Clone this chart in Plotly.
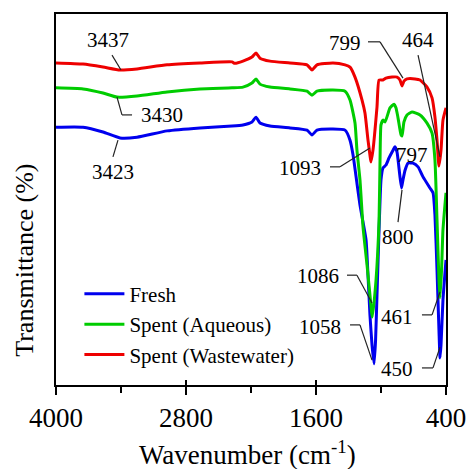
import plotly.graph_objects as go

# ---------------- data ----------------
fresh_wn = [4000, 3750, 3566, 3409, 3252, 2975, 2671, 2375, 2274, 2191, 2154, 2117, 2025, 1840, 1683, 1637, 1591,
            1443, 1332, 1286, 1258, 1222, 1194, 1166, 1138, 1120, 1102, 1083, 1064, 1050, 1037, 1018, 1000, 982,
            954, 926, 889, 871, 852, 834, 811, 797, 778, 751, 705, 658, 612, 548, 520, 502, 483, 465, 455, 446,
            428, 400]
fresh_t = [69.5, 69.5, 68.2, 66.6, 66.8, 68.5, 69.3, 69.8, 70.1, 70.9, 72.2, 70.6, 69.8, 69.3, 68.7, 67.4, 68.7,
           69.0, 68.7, 66.0, 62.0, 54.4, 48.5, 43.9, 39.1, 29.6, 18.9, 10.8, 5.7, 12.1, 24.3, 41.8, 55.3, 58.5,
           59.3, 61.2, 63.3, 64.2, 62.8, 58.5, 53.1, 55.3, 57.9, 59.8, 59.8, 58.8, 56.1, 53.1, 51.8, 45.8, 31.0,
           14.8, 7.3, 10.8, 22.9, 33.7]

aq_wn = [4000, 3750, 3566, 3437, 3252, 2975, 2671, 2375, 2274, 2191, 2154, 2117, 2025, 1840, 1683, 1637, 1591,
         1443, 1332, 1286, 1240, 1222, 1194, 1166, 1129, 1102, 1080, 1046, 1018, 1009, 1000, 982, 963, 917, 880,
         862, 843, 815, 806, 788, 760, 714, 640, 575, 529, 502, 483, 465, 455, 441, 428, 400]
aq_t = [80.1, 79.8, 78.7, 77.6, 77.9, 79.0, 79.8, 80.1, 80.3, 81.4, 82.5, 81.1, 80.3, 79.8, 79.2, 78.1, 79.2,
        79.5, 79.2, 76.8, 70.6, 63.3, 55.3, 42.6, 32.3, 24.3, 18.3, 28.3, 44.5, 60.6, 70.1, 71.4, 70.9, 74.7, 75.7,
        74.7, 72.0, 67.4, 67.1, 70.9, 72.8, 73.6, 72.8, 70.6, 67.9, 60.6, 44.5, 28.3, 23.5, 31.0, 41.8, 51.8]

ww_wn = [4000, 3750, 3566, 3409, 3252, 2975, 2671, 2375, 2350, 2274, 2191, 2154, 2117, 2025, 1840, 1683, 1637,
         1591, 1443, 1332, 1286, 1240, 1175, 1148, 1120, 1102, 1093, 1074, 1037, 1018, 982, 954, 898, 852, 825,
         806, 788, 760, 686, 640, 575, 529, 502, 483, 465, 446, 428, 400]
ww_t = [86.8, 86.5, 85.7, 84.9, 85.2, 86.3, 86.8, 87.1, 86.7, 87.3, 88.4, 89.5, 88.1, 87.3, 86.8, 86.3, 84.9,
        86.3, 86.8, 86.3, 85.7, 83.0, 76.8, 73.3, 66.0, 62.0, 60.1, 63.3, 74.9, 82.2, 82.2, 82.7, 83.0, 83.0, 82.2,
        80.6, 81.9, 82.5, 82.5, 82.2, 80.3, 77.4, 72.2, 66.0, 59.0, 63.3, 71.4, 74.7]

series_names = ["Fresh", "Spent (Aqueous)", "Spent (Wastewater)"]
series_colors = ["#0000ee", "#00cc00", "#ee0000"]

x_ticks = [4000, 2800, 1600, 400]
x_minor = [3400, 2200, 1000]

# peak labels: text, text position (wn, T), leader polyline (wn, T) points
peak_labels = ["3437", "3430", "3423", "1093", "799", "464", "797", "800", "1086", "1058", "461", "450"]
label_pos = [(3520, 93.0), (3022, 72.8), (3474, 57.4), (1748, 58.5), (1332, 92.2), (658, 93.0),
             (714, 62.0), (843, 39.9), (1582, 29.4), (1563, 15.6), (852, 18.3), (852, 4.3)]
leaders = [
    [(3483, 88.9), (3400, 84.9)],
    [(3298, 72.8), (3391, 72.8), (3437, 77.6)],
    [(3474, 61.5), (3428, 66.0)],
    [(1471, 58.8), (1378, 58.8), (1102, 63.9)],
    [(1120, 92.5), (1009, 92.5), (797, 82.7)],
    [(658, 88.9), (455, 61.5)],
    [],
    [(843, 43.9), (806, 52.6)],
    [(1314, 29.6), (1222, 29.6), (1083, 22.1)],
    [(1286, 16.2), (1194, 16.2), (1083, 6.7)],
    [(622, 18.9), (529, 18.9), (455, 25.1)],
    [(622, 4.6), (520, 4.6), (455, 10.2)],
]

FONT = "Times New Roman, Liberation Serif, serif"

fig = go.Figure()
for name, color, xs, ys in zip(series_names, series_colors,
                               [fresh_wn, aq_wn, ww_wn], [fresh_t, aq_t, ww_t]):
    fig.add_trace(go.Scatter(x=xs, y=ys, mode="lines", name=name,
                             line=dict(color=color, width=3, shape="spline", smoothing=0.5)))

# dummy trace for overlay axis carrying inside ticks
fig.add_trace(go.Scatter(x=[4000, 400], y=[None, None], xaxis="x2", showlegend=False,
                         hoverinfo="skip", mode="lines"))

shapes = []
for pts in leaders:
    for (x0, y0), (x1, y1) in zip(pts[:-1], pts[1:]):
        shapes.append(dict(type="line", xref="x", yref="y", x0=x0, y0=y0, x1=x1, y1=y1,
                           line=dict(color="#222222", width=1.2)))

annotations = []
for txt, (x, y) in zip(peak_labels, label_pos):
    annotations.append(dict(x=x, y=y, xref="x", yref="y", text=txt, showarrow=False,
                            font=dict(family=FONT, size=21, color="black")))

annotations.append(dict(x=0.49, y=-0.183, xref="paper", yref="paper", text="Wavenumber (cm<sup>-1</sup>)",
                        showarrow=False, xanchor="center", yanchor="middle",
                        font=dict(family=FONT, size=27, color="black")))
annotations.append(dict(x=-0.08, y=0.337, xref="paper", yref="paper", text="Transmittance (%)",
                        showarrow=False, textangle=-90, xanchor="center", yanchor="middle",
                        font=dict(family=FONT, size=26, color="black")))

fig.update_layout(
    width=469, height=469,
    margin=dict(l=56, r=23, t=14, b=84, autoexpand=False),
    paper_bgcolor="white", plot_bgcolor="white",
    showlegend=True,
    legend=dict(x=0.06, y=0.30, xanchor="left", yanchor="top", bgcolor="rgba(0,0,0,0)",
                font=dict(family=FONT, size=21, color="black"), tracegroupgap=0,
                itemwidth=40),
    xaxis=dict(range=[4000, 400], tickvals=x_ticks, ticktext=[str(v) for v in x_ticks],
               automargin=False,
               ticks="outside", ticklen=8, tickwidth=1.5, tickcolor="black",
               showline=True, linecolor="black", linewidth=1.5, mirror=True,
               showgrid=False, zeroline=False,
               tickfont=dict(family=FONT, size=27, color="black"),
               minor=dict(tickvals=x_minor, ticks="outside", ticklen=6, tickwidth=1.5, tickcolor="black",
                          showgrid=False)),
    xaxis2=dict(range=[4000, 400], overlaying="x", side="bottom", tickvals=x_ticks,
                automargin=False,
                showticklabels=False, ticks="inside", ticklen=5, tickwidth=1.5, tickcolor="black",
                showgrid=False, zeroline=False, showline=False),
    yaxis=dict(range=[0, 100], showticklabels=False, ticks="", showgrid=False, zeroline=False,
               automargin=False,
               showline=True, linecolor="black", linewidth=1.5, mirror=True),
    shapes=shapes,
    annotations=annotations,
)

fig.write_html("out.html")
